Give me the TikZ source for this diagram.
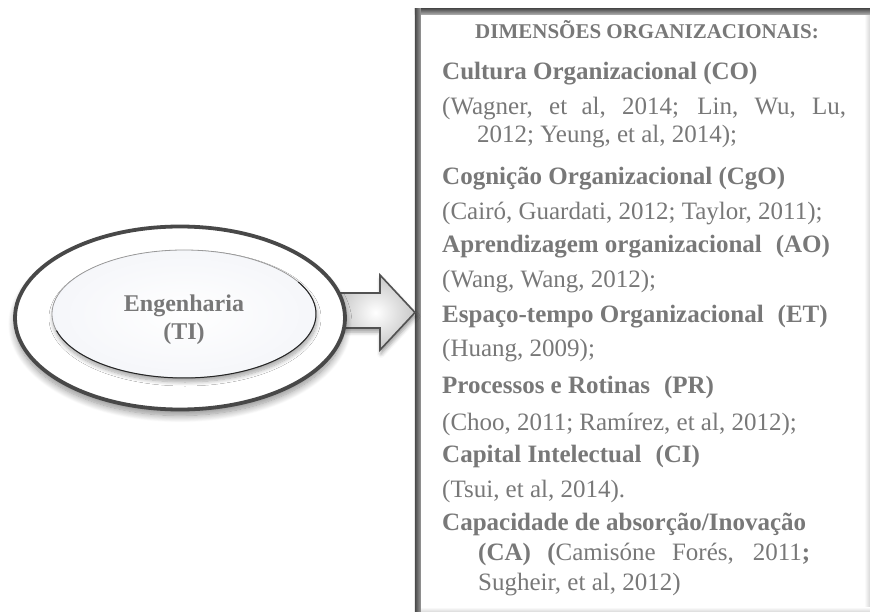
\documentclass[tikz,border=0pt]{standalone}
\usepackage{fontspec}
\setmainfont{Liberation Serif}
\usetikzlibrary{shapes.geometric,shadows.blur,calc}

\definecolor{txt}{RGB}{120,120,120}
\definecolor{rim}{RGB}{72,72,72}
\definecolor{paleblue}{RGB}{238,240,246}

% white ring that darkens towards its rim
\pgfdeclareradialshading{ringfill}{\pgfpoint{0bp}{0bp}}{%
  color(0bp)=(white); color(41bp)=(white); color(47bp)=(black!8); color(50bp)=(black!35)}
% pale inner disc
\pgfdeclareradialshading{discfill}{\pgfpoint{0bp}{0bp}}{%
  color(0bp)=(white); color(26bp)=(paleblue!60); color(44bp)=(paleblue); color(50bp)=(black!16)}

\newcommand{\dsp}{\hspace{14pt}}

\tikzset{
  hd/.style={anchor=base west, inner sep=0pt, text=txt,
             font=\fontsize{25}{30}\selectfont\bfseries},
  ct/.style={anchor=base west, inner sep=0pt, text=txt,
             font=\fontsize{25}{30}\selectfont},
  ring/.style={ellipse, inner sep=0pt, draw=rim, line width=3.8pt, shading=ringfill,
             blur shadow={shadow xshift=0pt, shadow yshift=-6pt,
                          shadow blur radius=7pt, shadow blur steps=12, shadow opacity=45}},
  disc/.style={ellipse, inner sep=0pt, draw=black!40, line width=0.8pt, shading=discfill,
             blur shadow={shadow xshift=1pt, shadow yshift=-4pt,
                          shadow blur radius=4pt, shadow blur steps=8, shadow opacity=35}},
  blockarrow/.style={draw=black!68, line width=1.6pt, line join=miter,
             inner color=white, outer color=black!22,
             blur shadow={shadow xshift=1pt, shadow yshift=-4pt,
                          shadow blur radius=4pt, shadow opacity=40}},
}

\begin{document}
\begin{tikzpicture}[x=1pt, y=-1pt]
\useasboundingbox (0,0) rectangle (870,612);

% ---- dimensions panel ----
\node[fill=white, inner sep=0pt, minimum width=455pt, minimum height=603pt] (dims) at (642.5,310.5) {};
\shade[left color=white, right color=black!16]
  ($(dims.north east)+(-6,6)$) rectangle (dims.south east);
\shade[top color=white, bottom color=black!16]
  ($(dims.south west)+(6,-5)$) rectangle (dims.south east);
\shade[top color=black!68, bottom color=black!30]
  (dims.north west) rectangle ($(dims.north east)+(0,6)$);
\shade[left color=black!72, right color=black!40]
  (dims.north west) rectangle ($(dims.south west)+(6,0)$);

% ---- block arrow into the panel ----
\coordinate (tip) at (415,312.5);
\draw[blockarrow] (336,293) -- (380,293) -- (380,275) -- (tip) -- (380,350)
  -- (380,328) -- (336,328) -- cycle;

% ---- engineering ellipse ----
\node[ring, minimum width=330pt, minimum height=183pt] (outer) at (180,318) {};
\node[disc, minimum width=264pt, minimum height=128pt] (ti) at (184,314) {};
\draw[black!85, line width=1pt]
  ($(ti.center)+(-30:132 and 64)$) arc[start angle=-30, end angle=165, x radius=132, y radius=64];
\node[anchor=base, inner sep=0pt, text=txt, font=\fontsize{24}{28}\selectfont\bfseries] (tilabel)
  at (184,312) {\begin{tabular}[t]{@{}c@{}}Engenharia\\(TI)\end{tabular}};

% ---- panel text ----
\node[anchor=base, inner sep=0pt, text=txt, font=\fontsize{21}{25}\selectfont\bfseries] (title)
  at (647,39) {DIMENSÕES ORGANIZACIONAIS:};

\node[hd] (co)   at (442,80)  {Cultura Organizacional (CO)};
\node[ct] (cor)  at (442,115) {\makebox[404pt][s]{(Wagner, et al, 2014; Lin, Wu, Lu,}};
\node[ct] (cos)  at (477,143) {2012; Yeung, et al, 2014);};
\node[hd] (cgo)  at (442,185) {Cognição Organizacional (CgO)};
\node[ct] (cgor) at (442,220) {(Cairó, Guardati, 2012; Taylor, 2011);};
\node[hd] (ao)   at (442,253) {Aprendizagem organizacional\dsp(AO)};
\node[ct] (aor)  at (442,288) {(Wang, Wang, 2012);};
\node[hd] (et)   at (442,323) {Espaço-tempo Organizacional\dsp(ET)};
\node[ct] (etr)  at (442,356) {(Huang, 2009);};
\node[hd] (pr)   at (442,393) {Processos e Rotinas\dsp(PR)};
\node[ct] (prr)  at (442,430) {(Choo, 2011; Ramírez, et al, 2012);};
\node[hd] (ci)   at (442,462) {Capital Intelectual\dsp(CI)};
\node[ct] (cir)  at (442,497) {(Tsui, et al, 2014).};
\node[hd] (ca)   at (442,530) {Capacidade de absorção/Inovação};
\node[ct] (car)  at (478,560) {\makebox[332pt][s]{\bfseries(CA) (\mdseries Camisóne Forés, 2011\bfseries;}};
\node[ct] (cas)  at (478,590) {Sugheir, et al, 2012)};
\end{tikzpicture}
\end{document}
